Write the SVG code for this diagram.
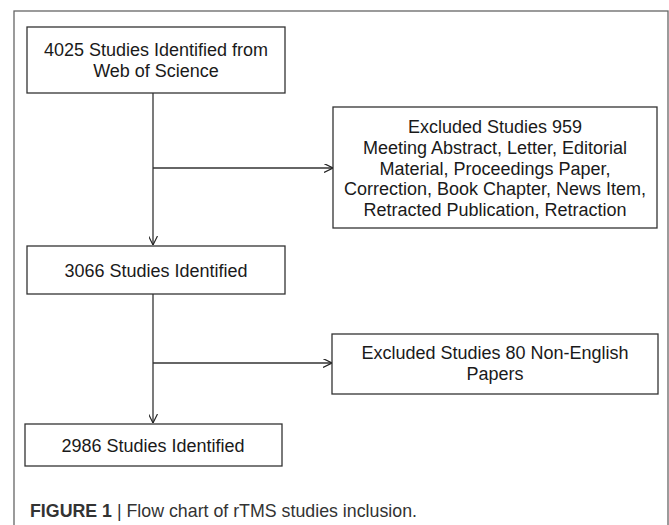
<svg xmlns="http://www.w3.org/2000/svg" width="669" height="525" viewBox="0 0 669 525">
<defs>
<marker id="arr" viewBox="0 0 10 10" refX="10" refY="5" markerWidth="9" markerHeight="9" markerUnits="userSpaceOnUse" orient="auto">
<path d="M0,0 L10,5 L0,10" fill="none" stroke="#222" stroke-width="1.3"/>
</marker>
<style>
.box{fill:#fff;stroke:#333;stroke-width:1.3}
.t{font-family:"Liberation Sans",Arial,sans-serif;font-size:18px;fill:#1a1a1a;text-anchor:middle}
.c{stroke:#333;stroke-width:1.3;fill:none}
.cap{font-family:"Liberation Sans",Arial,sans-serif;font-size:19px;fill:#333}
</style>
</defs>
<rect x="14" y="11" width="654" height="530" fill="#fff" stroke="#666" stroke-width="1.3"/>
<g id="connectors">
<line class="c" x1="153" y1="93" x2="153" y2="245" marker-end="url(#arr)"/>
<line class="c" x1="153" y1="168" x2="333" y2="168" marker-end="url(#arr)"/>
<line class="c" x1="153" y1="294" x2="153" y2="423" marker-end="url(#arr)"/>
<line class="c" x1="153" y1="363" x2="332" y2="363" marker-end="url(#arr)"/>
</g>
<g id="n1">
<rect class="box" x="27" y="27" width="258" height="66"/>
<text class="t" x="156" y="56">4025 Studies Identified from</text>
<text class="t" x="156" y="77">Web of Science</text>
</g>
<g id="n2">
<rect class="box" x="333" y="107" width="324" height="121"/>
<text class="t" x="495" y="133">Excluded Studies 959</text>
<text class="t" x="495" y="154">Meeting Abstract, Letter, Editorial</text>
<text class="t" x="495" y="174.5">Material, Proceedings Paper,</text>
<text class="t" x="495" y="195">Correction, Book Chapter, News Item,</text>
<text class="t" x="495" y="215.5">Retracted Publication, Retraction</text>
</g>
<g id="n3">
<rect class="box" x="27" y="246" width="258" height="48"/>
<text class="t" x="156" y="277">3066 Studies Identified</text>
</g>
<g id="n4">
<rect class="box" x="332" y="334" width="326" height="60"/>
<text class="t" x="495" y="359">Excluded Studies 80 Non-English</text>
<text class="t" x="495" y="380">Papers</text>
</g>
<g id="n5">
<rect class="box" x="25" y="424" width="257" height="42"/>
<text class="t" x="153" y="452">2986 Studies Identified</text>
</g>
<text class="cap" x="30" y="517" textLength="387" lengthAdjust="spacingAndGlyphs"><tspan font-weight="bold">FIGURE 1</tspan> | Flow chart of rTMS studies inclusion.</text>
</svg>
